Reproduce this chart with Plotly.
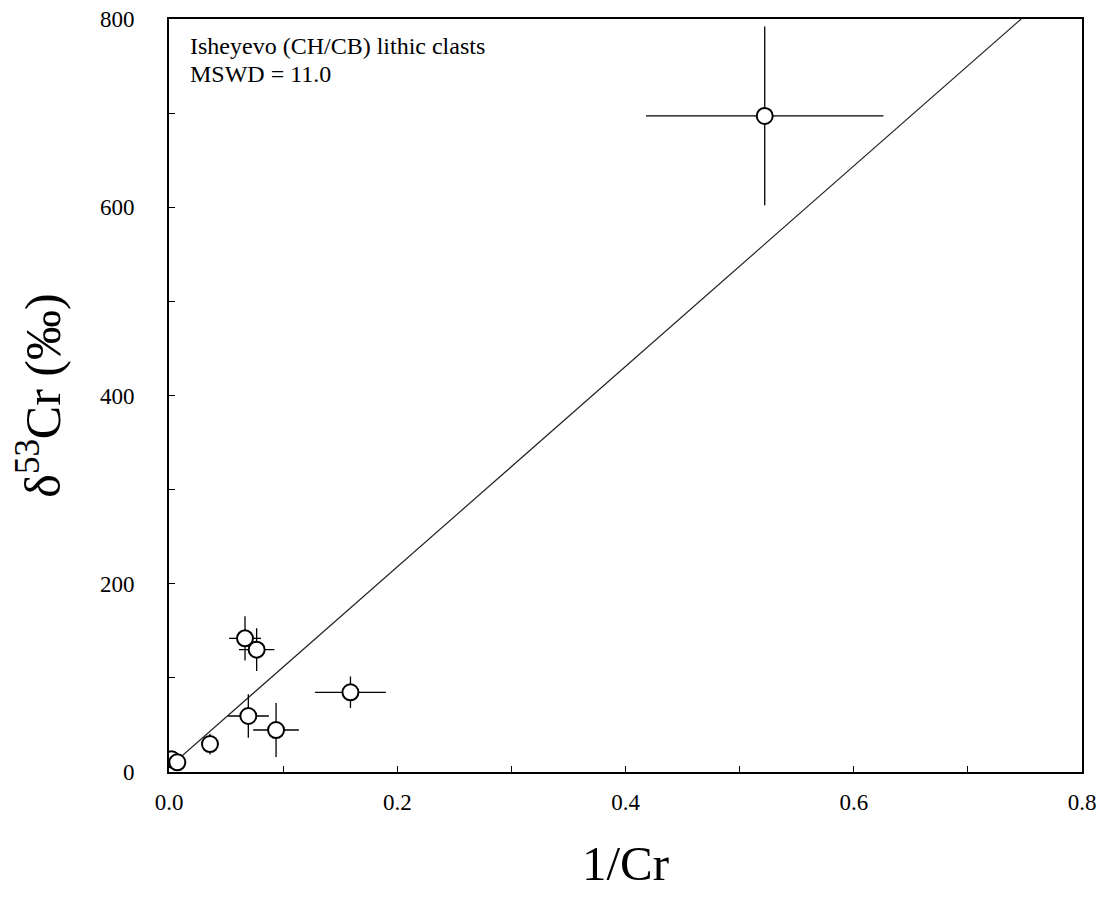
import plotly.graph_objects as go

# Data
inv_cr = [0.522, 0.0666, 0.0768, 0.0695, 0.0938, 0.159, 0.0359, 0.0023, 0.0073]
inv_cr_err = [0.104, 0.014, 0.0155, 0.018, 0.020, 0.031, 0.003, 0.001, 0.001]
d53cr = [697, 142, 130, 59.5, 44.6, 84.7, 29.7, 13.5, 10.3]
d53cr_err = [95, 23.5, 22.7, 23, 28.7, 16.8, 11, 4, 4]

fit_slope = 1064.7
fit_intercept = 5.0
fit_x = [0.0, (800 - 5.0) / 1064.7]
fit_y = [fit_intercept + fit_slope * v for v in fit_x]

x_tickvals = [0.0, 0.2, 0.4, 0.6, 0.8]
x_ticktext = ["0.0", "0.2", "0.4", "0.6", "0.8"]
y_tickvals = [0, 200, 400, 600, 800]
y_ticktext = ["0", "200", "400", "600", "800"]
x_minor_step = 0.1
y_minor_step = 100

label_line1 = "Isheyevo (CH/CB) lithic clasts"
label_line2 = "MSWD = 11.0"

FONT = "Liberation Serif"

fig = go.Figure()
fig.add_trace(go.Scatter(
    x=fit_x, y=fit_y, mode="lines",
    line=dict(color="#222222", width=1.2),
    hoverinfo="skip", showlegend=False,
))
fig.add_trace(go.Scatter(
    x=inv_cr, y=d53cr, mode="markers",
    marker=dict(size=16, color="white", line=dict(color="black", width=2)),
    error_x=dict(type="data", array=inv_cr_err, color="black", thickness=1.3, width=0),
    error_y=dict(type="data", array=d53cr_err, color="black", thickness=1.3, width=0),
    showlegend=False,
))

axis_common = dict(
    showline=True, linecolor="black", linewidth=2, mirror=True,
    ticks="inside", ticklen=6, tickwidth=1, tickcolor="black",
    showgrid=False, zeroline=False, automargin=False,
    ticklabeloverflow="allow",
    tickfont=dict(family=FONT, size=23, color="black"),
)

fig.update_xaxes(
    range=[0, 0.8], tickmode="array", tickvals=x_tickvals, ticktext=x_ticktext,
    minor=dict(dtick=x_minor_step, ticks="inside", ticklen=6, tickwidth=1, tickcolor="black", showgrid=False),
    title=dict(text="1/Cr", font=dict(family=FONT, size=49, color="black"), standoff=32),
    ticklabelstandoff=8,
    **axis_common,
)
fig.update_yaxes(
    range=[0, 800], tickmode="array", tickvals=y_tickvals, ticktext=y_ticktext,
    minor=dict(dtick=y_minor_step, ticks="inside", ticklen=6, tickwidth=1, tickcolor="black", showgrid=False),
    title=dict(text="δ<sup>53</sup>Cr (‰)", font=dict(family=FONT, size=50, color="black"), standoff=30),
    ticklabelstandoff=28,
    **axis_common,
)

fig.add_annotation(
    xref="paper", yref="paper", x=0.021, y=0.984, xanchor="left", yanchor="top",
    text=label_line1, showarrow=False,
    font=dict(family=FONT, size=24, color="black"),
)
fig.add_annotation(
    xref="paper", yref="paper", x=0.021, y=0.947, xanchor="left", yanchor="top",
    text=label_line2, showarrow=False,
    font=dict(family=FONT, size=24, color="black"),
)

# The page body adds an 8 px margin, so the figure is shifted by that amount.
fig.update_layout(
    width=1098, height=893,
    margin=dict(l=161, r=24, t=11, b=129, autoexpand=False),
    paper_bgcolor="white", plot_bgcolor="white",
    font=dict(family=FONT, color="black"),
)

fig.write_html("out.html")
